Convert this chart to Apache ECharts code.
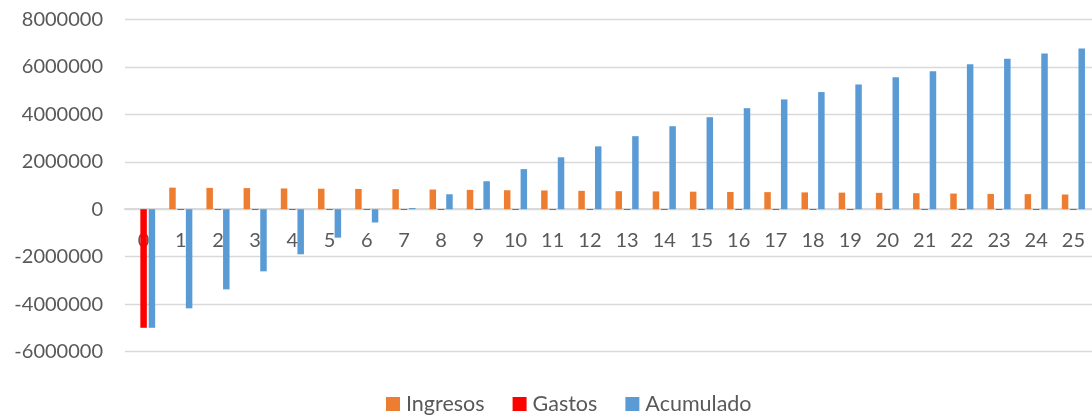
<!DOCTYPE html>
<html>
<head>
<meta charset="utf-8">
<script src="https://cdn.jsdelivr.net/npm/echarts@6/dist/echarts.min.js"></script>
<style>
  html, body { margin: 0; padding: 0; background: #ffffff; }
  #chart { width: 1092px; height: 419px; }
</style>
</head>
<body>
<div id="chart"></div>
<script>
// Periods (years) of the project
const categories = ['0','1','2','3','4','5','6','7','8','9','10','11','12','13','14','15','16','17','18','19','20','21','22','23','24','25'];

// Yearly income
const ingresos = [0, 910000, 900000, 890000, 875000, 865000, 855000, 845000, 830000, 815000, 800000, 790000, 775000, 760000, 750000, 740000, 725000, 720000, 710000, 700000, 690000, 675000, 660000, 645000, 635000, 620000];

// Yearly expenses (initial investment in year 0)
const gastos = [-5000000, -30000, -30000, -30000, -30000, -30000, -30000, -30000, -30000, -30000, -30000, -30000, -30000, -30000, -30000, -30000, -30000, -30000, -30000, -30000, -30000, -30000, -30000, -30000, -30000, -30000];

// Cumulative balance
const acumulado = [-5000000, -4180000, -3380000, -2620000, -1900000, -1200000, -560000, 50000, 630000, 1180000, 1690000, 2190000, 2650000, 3080000, 3500000, 3880000, 4260000, 4630000, 4940000, 5260000, 5560000, 5820000, 6110000, 6340000, 6570000, 6780000];

// Value axis range and step
const yMin = -6000000;
const yMax = 8000000;
const yStep = 2000000;

const seriesNames = ['Ingresos', 'Gastos', 'Acumulado'];
const seriesColors = ['#ED7D31', '#FF0000', '#5B9BD5'];

const font = 'Lato, "Open Sans", sans-serif';
const textColor = '#595959';
const gridColor = '#D9D9D9';

const gridTop = 19.5;
const gridHeight = 332;
// distance from the bottom of the plot to the zero line, so the category labels sit under it
const zeroOffset = gridHeight * (0 - yMin) / (yMax - yMin);

const chart = echarts.init(document.getElementById('chart'), null, { renderer: 'canvas' });

const barStyle = (name, color, data) => ({
  name: name,
  type: 'bar',
  data: data,
  barWidth: 6.5,
  barGap: '28%',
  itemStyle: { color: color },
  emphasis: { disabled: true }
});

chart.setOption({
  animation: false,
  textStyle: { fontFamily: font },
  grid: {
    left: 125,
    top: gridTop,
    width: 975,
    height: gridHeight,
    containLabel: false
  },
  legend: {
    data: seriesNames,
    left: 381,
    top: 388,
    itemWidth: 14,
    itemHeight: 14,
    itemGap: 28,
    icon: 'rect',
    textStyle: { fontFamily: font, fontSize: 21.5, color: textColor, padding: [0, 0, 0, 1] }
  },
  xAxis: {
    type: 'category',
    data: categories,
    position: 'bottom',
    offset: -zeroOffset,
    axisLine: { onZero: false, lineStyle: { color: gridColor, width: 2 } },
    axisTick: { show: false },
    axisLabel: { margin: 21, fontFamily: font, fontSize: 20, color: textColor, interval: 0 },
    splitLine: { show: false }
  },
  yAxis: {
    type: 'value',
    min: yMin,
    max: yMax,
    interval: yStep,
    axisLine: { show: false },
    axisTick: { show: false },
    axisLabel: {
      margin: 22, fontFamily: font, fontSize: 20, color: textColor,
      formatter: (v) => String(v)
    },
    splitLine: { lineStyle: { color: gridColor, width: 1.3 } }
  },
  series: [
    barStyle(seriesNames[0], seriesColors[0], ingresos),
    barStyle(seriesNames[1], seriesColors[1], gastos),
    barStyle(seriesNames[2], seriesColors[2], acumulado)
  ]
});
</script>
</body>
</html>
